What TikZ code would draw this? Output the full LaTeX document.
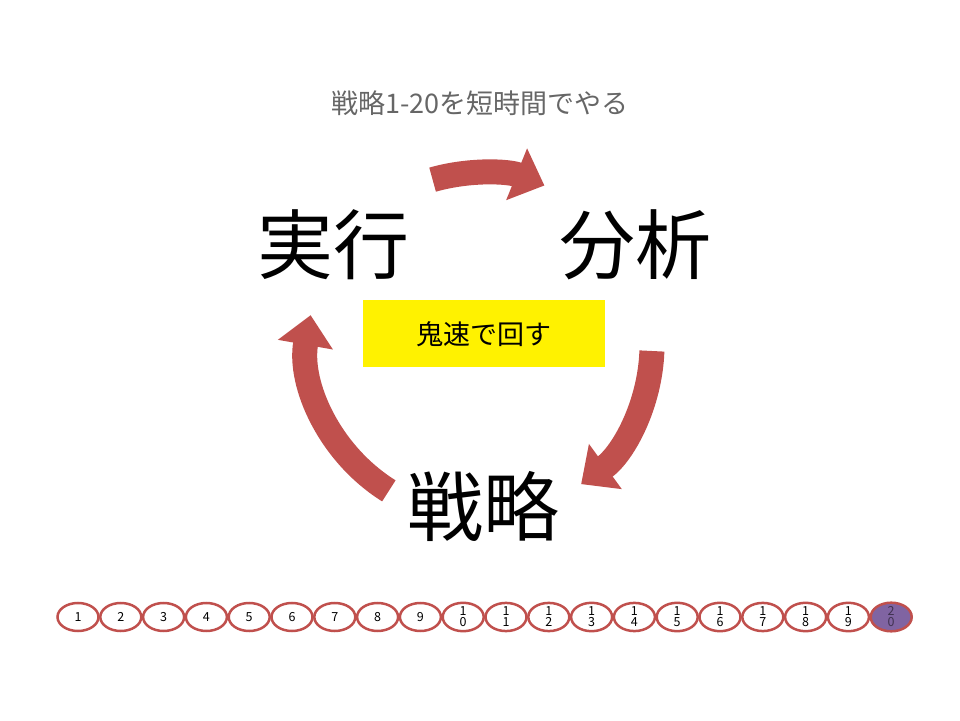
\documentclass[tikz,border=0pt]{standalone}
\usepackage{fontspec}
\setmainfont{Noto Sans CJK JP}
\usetikzlibrary{arrows.meta,shapes.geometric}
\definecolor{ared}{HTML}{C0504D}
\definecolor{purp}{HTML}{8064A2}
\begin{document}
\begin{tikzpicture}[x=1pt,y=1pt,
  cyc/.style={draw=ared,line width=25pt,-{Triangle[width=54pt,length=30pt]}},
  big/.style={font=\fontsize{76}{80}\selectfont},
  num/.style={ellipse,draw=ared,line width=2.5pt,minimum width=41pt,minimum height=28pt,inner sep=0pt,align=center,font=\fontsize{12.5}{11}\selectfont}]
\useasboundingbox (0,0) rectangle (960,720);
\coordinate (c) at (480,375);
\draw[cyc] ([shift={(106:172)}]c) arc (106:68:172);
\draw[cyc] ([shift={(-2:172)}]c) arc (-2:-54:172);
\draw[cyc] ([shift={(-122:172)}]c) arc (-122:-190:172);
\node[text=black!60,font=\fontsize{27}{30}\selectfont] (t) at (480,617) {戦略1-20を短時間でやる};
\node[big] (a) at (333,475) {実行};
\node[big] (b) at (635,475) {分析};
\node[big] (s) at (483,213) {戦略};
\node[fill=yellow,minimum width=242pt,minimum height=67pt,font=\fontsize{27}{30}\selectfont] (y) at (484,386) {鬼速で回す};
\foreach \i in {1,...,9} \node[num] (n\i) at ({78+(\i-1)*42.8},103) {\i};
\foreach \i in {10,...,19} {
  \pgfmathtruncatemacro\tn{\i/10}\pgfmathtruncatemacro\un{mod(\i,10)}
  \node[num] (n\i) at ({78+(\i-1)*42.8},103) {\tn\\\un};}
\node[num,fill=purp,text=purp!50!black] (n20) at ({78+19*42.8},103) {2\\0};
\end{tikzpicture}
\end{document}
